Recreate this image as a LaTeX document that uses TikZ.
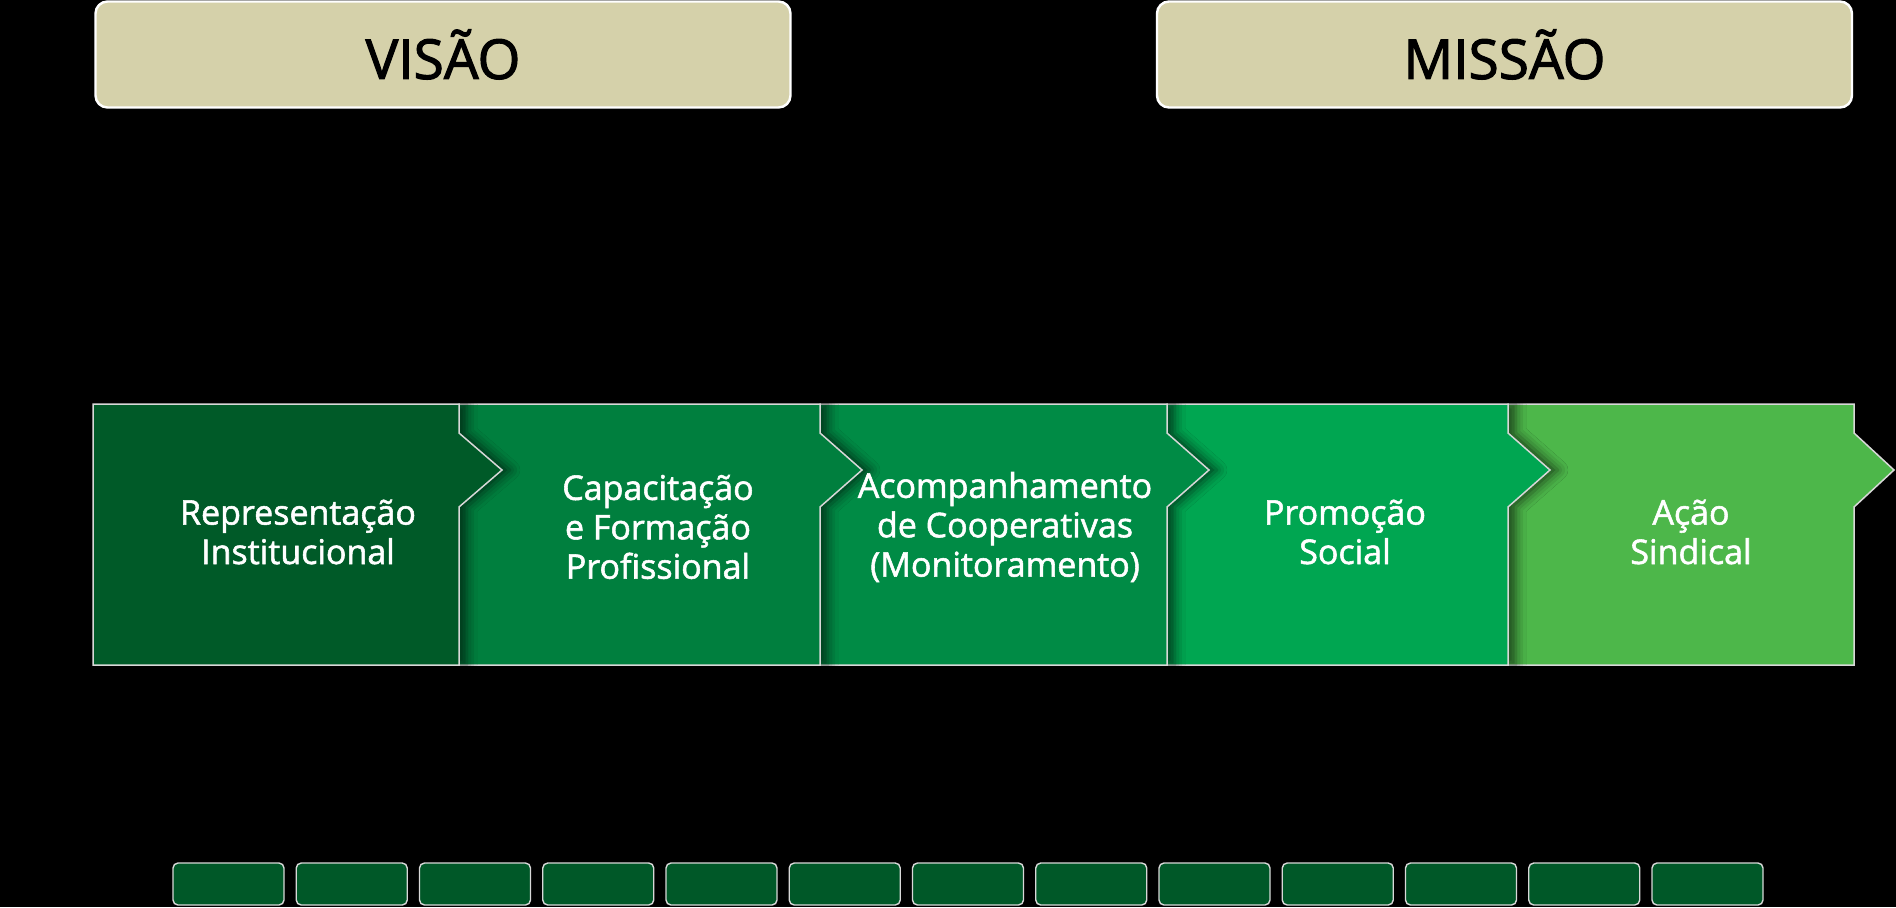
\documentclass[tikz,border=0pt]{standalone}
\usepackage{fontspec}
\setmainfont{Open Sans}
\newfontfamily\titlefont{Open Sans}[FakeBold=2]
\newfontfamily\labelfont{Open Sans}[FakeBold=1.6]
\usetikzlibrary{shadows.blur}
\definecolor{g1}{HTML}{005A28}
\definecolor{g2}{HTML}{007F3E}
\definecolor{g3}{HTML}{008B45}
\definecolor{g4}{HTML}{00A651}
\definecolor{g5}{HTML}{4DB74A}
\definecolor{gb}{HTML}{005828}
\definecolor{sand}{HTML}{D5D1AA}
\definecolor{edge}{HTML}{D8D8D8}
\begin{document}
\begin{tikzpicture}[x=0.5pt,y=-0.5pt,
  headbox/.style={draw=white, fill=sand, line width=1.2pt, rounded corners=6pt,
    minimum width=347.5pt, minimum height=53pt, inner sep=0pt,
    font=\titlefont\fontsize{27.5}{33}\selectfont, text=black},
  chevbox/.style={fill=#1, draw=edge, line width=0.75pt,
    blur shadow={shadow xshift=4pt, shadow yshift=0pt, shadow blur radius=5pt, shadow opacity=60}},
  lbl/.style={text=white, align=center, inner sep=0pt,
    font=\labelfont\fontsize{17}{19.7}\selectfont},
  smallbox/.style={draw=edge, fill=gb, line width=0.7pt, rounded corners=2.5pt,
    minimum width=55.5pt, minimum height=21pt, inner sep=0pt}]
\fill[black] (0,0) rectangle (1896,907);
\useasboundingbox (0,0) rectangle (1896,907);
% header boxes
\node[headbox] (visao) at (443,54.5) {VISÃO};
\node[headbox] (missao) at (1504.5,54.5) {MISSÃO};
% chevron row, drawn right to left so each point overlaps the next box
\foreach \L/\R/\P/\c in {1508/1854/1894/g5, 1167/1508/1550/g4, 820/1167/1209/g3, 459/820/862/g2, 93/459/502/g1}{
  \path[chevbox=\c] (\L,404) -- (\R,404) -- (\R,433) -- (\P,470) -- (\R,507) -- (\R,665) -- (\L,665) -- cycle;
}
% labels
\node[lbl] (l1) at (298,532) {Representação\\Institucional};
\node[lbl] (l2) at (658,527) {Capacitação\\e Formação\\Profissional};
\node[lbl] (l3) at (1005,527) {Acompanhamento\\de Cooperativas\\(Monitoramento)};
\node[lbl] (l4) at (1345,532) {Promoção\\Social};
\node[lbl] (l5) at (1691,532) {Ação\\Sindical};
% bottom row of small boxes
\foreach \i in {0,...,12}{
  \node[smallbox] (sb\i) at ({228.5+123.25*\i},884) {};
}
\end{tikzpicture}
\end{document}
